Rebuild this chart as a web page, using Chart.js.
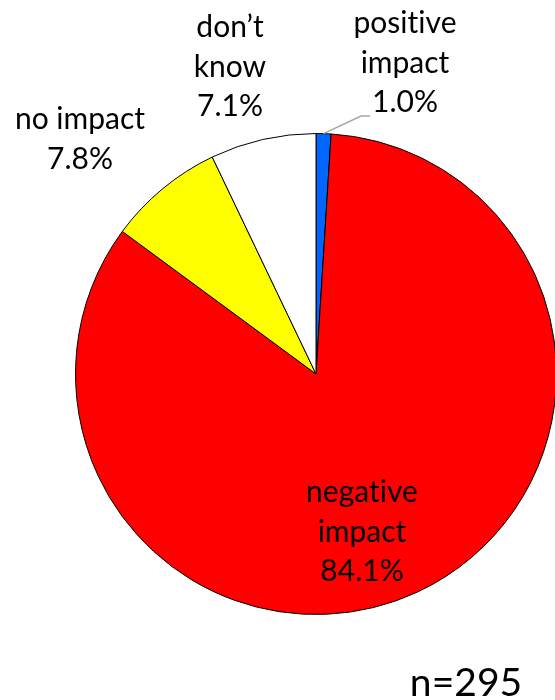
<!DOCTYPE html>
<html>
<head>
<meta charset="utf-8">
<script src="https://cdn.jsdelivr.net/npm/chart.js@4"></script>
<style>
  html, body { margin: 0; padding: 0; background: #fff; overflow: hidden; }
  #wrap { width: 560px; height: 700px; }
</style>
</head>
<body>
<div id="wrap"><canvas id="pieChart" width="560" height="700"></canvas></div>
<script>
// datos del grafico (en sentido horario desde arriba)
const categories = ['positive impact', 'negative impact', 'no impact', 'don\u2019t know'];
const shares = [1.0, 84.1, 7.8, 7.1];
const sliceColors = ['#0066ff', '#ff0000', '#ffff00', '#ffffff'];
const sampleLabel = 'n=295';

// como se parte cada etiqueta en lineas
const labelLines = [
    ['positive', 'impact'],
    ['negative', 'impact'],
    ['no impact'],
    ['don\u2019t', 'know']
];

// posicion de la primera linea de cada etiqueta (centro x, baseline y)
const labelLayout = [
    { x: 405, y: 33 },
    { x: 362, y: 502 },
    { x: 80, y: 129 },
    { x: 230, y: 37 }
];

const FONT = '30px Lato';
const LINE_H = 39.5;

const labelPlugin = {
    id: 'sliceLabels',
    afterDatasetsDraw(chart) {
        const ctx = chart.ctx;
        const arcs = chart.getDatasetMeta(0).data;
        ctx.save();

        // linea guia para la rebanada pequena
        const a = arcs[0];
        const mid = (a.startAngle + a.endAngle) / 2;
        const ex = a.x + a.outerRadius * Math.cos(mid);
        const ey = a.y + a.outerRadius * Math.sin(mid);
        ctx.strokeStyle = '#a6a6a6';
        ctx.lineWidth = 1.5;
        ctx.beginPath();
        ctx.moveTo(370, 116);
        ctx.lineTo(361, 116);
        ctx.lineTo(ex, ey);
        ctx.stroke();

        ctx.fillStyle = '#000';
        ctx.font = FONT;
        ctx.letterSpacing = '0.01px'; // evita la ligadura "ti" de Lato
        ctx.textAlign = 'center';
        ctx.textBaseline = 'alphabetic';
        shares.forEach((v, i) => {
            const lines = labelLines[i].concat([v.toFixed(1) + '%']);
            const pos = labelLayout[i];
            lines.forEach((t, j) => ctx.fillText(t, pos.x, pos.y + j * LINE_H));
        });

        ctx.font = '39px Lato';
        ctx.fillText(sampleLabel, 466, 696);
        ctx.restore();
    }
};

const ctx = document.getElementById('pieChart').getContext('2d');
const pieChart = new Chart(ctx, {
    type: 'pie',
    data: {
        labels: categories,
        datasets: [{
            data: shares,
            backgroundColor: sliceColors,
            borderColor: '#000',
            borderWidth: 1,
            hoverOffset: 0
        }]
    },
    options: {
        responsive: false,
        animation: false,
        events: [],
        layout: { padding: { left: 75, right: 3, top: 133, bottom: 85 } },
        plugins: {
            legend: { display: false },
            tooltip: { enabled: false }
        }
    },
    plugins: [labelPlugin]
});
</script>
</body>
</html>
